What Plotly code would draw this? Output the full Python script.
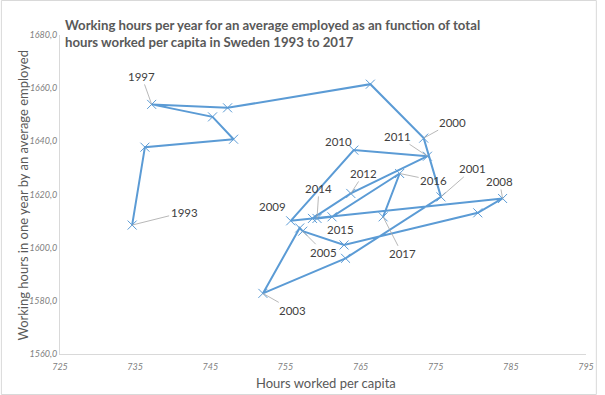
import plotly.graph_objects as go

years = list(range(1993, 2018))
hours_per_capita = [734.6, 736.3, 748.1, 745.3, 737.2, 747.3, 766.3, 773.4, 775.7, 763.0,
                    752.0, 756.9, 757.3, 762.8, 780.6, 783.9, 755.7, 764.1, 773.9, 763.7,
                    758.6, 759.2, 761.2, 770.2, 768.0]
hours_per_employed = [1608.5, 1637.8, 1640.8, 1649.2, 1653.9, 1652.6, 1661.5, 1641.2, 1619.1, 1596.0,
                      1582.8, 1607.4, 1606.2, 1601.0, 1613.1, 1618.5, 1610.1, 1636.7, 1634.4, 1620.4,
                      1611.0, 1611.0, 1611.6, 1627.9, 1611.6]

x_ticks = [725, 735, 745, 755, 765, 775, 785, 795]
y_ticks = [1560, 1580, 1600, 1620, 1640, 1660, 1680]
y_tick_text = ["1560,0", "1580,0", "1600,0", "1620,0", "1640,0", "1660,0", "1680,0"]

labelled_years = [1993, 1997, 2000, 2011, 2001, 2008, 2016, 2010, 2012, 2014, 2009, 2015, 2005, 2017, 2003]
label_offsets = {1993: (52, -13), 1997: (-10, -28), 2000: (29, -16), 2011: (-30, -20),
                 2001: (32, -28), 2008: (-3, -17), 2016: (34, 7), 2010: (-15, -9),
                 2012: (13, -20), 2014: (2, -30), 2009: (-18, -14), 2015: (8, 13),
                 2005: (21, 21), 2017: (19, 37), 2003: (30, 17)}
no_leader = {2010, 2009, 2015}

BLUE = "#5B9BD5"
fig = go.Figure()
fig.add_trace(go.Scatter(
    x=hours_per_capita, y=hours_per_employed, mode="lines+markers",
    line=dict(color=BLUE, width=2),
    marker=dict(symbol="x-thin", size=9, line=dict(color=BLUE, width=1), color=BLUE),
    hoverinfo="x+y", showlegend=False))

annotations = []
for yr in labelled_years:
    i = years.index(yr)
    ax, ay = label_offsets[yr]
    annotations.append(dict(
        x=hours_per_capita[i], y=hours_per_employed[i], xref="x", yref="y",
        text=str(yr), showarrow=True, arrowhead=0, arrowwidth=0.8,
        arrowcolor="rgba(0,0,0,0)" if yr in no_leader else "#a6a6a6",
        standoff=0, ax=ax, ay=ay,
        font=dict(family="Lato", size=11.5, color="#404040")))

annotations.append(dict(
    text="<b>Working hours per year for an average employed as an function of total<br>hours worked per capita in Sweden 1993 to 2017</b>",
    xref="paper", yref="paper", x=3/534, y=1 + 1.5/319, xanchor="left", yanchor="middle",
    align="left", showarrow=False, font=dict(family="Lato", size=13.2, color="#595959")))
annotations.append(dict(
    text="Hours worked per capita", xref="paper", yref="paper",
    x=(330-60)/534, y=-(383-354)/319, xanchor="center", yanchor="middle",
    showarrow=False, font=dict(family="Lato", size=13, color="#595959")))
annotations.append(dict(
    text="Working hours in one year by an average employed", xref="paper", yref="paper",
    x=-(60-22)/534, y=(354-195)/319, xanchor="center", yanchor="middle", textangle=-90,
    showarrow=False, font=dict(family="Lato", size=13, color="#595959")))

fig.update_layout(
    width=605, height=395,
    margin=dict(l=60, r=11, t=35, b=41),
    paper_bgcolor="white", plot_bgcolor="white",
    annotations=annotations,
    shapes=[dict(type="rect", xref="paper", yref="paper",
                 x0=-59.5/534, x1=(604.5-60)/534, y0=-(394.5-354)/319, y1=1 + 34.5/319,
                 line=dict(color="#d9d9d9", width=1), fillcolor="rgba(0,0,0,0)", layer="below")],
    xaxis=dict(range=[725, 795], tickvals=x_ticks, ticktext=[str(v) for v in x_ticks],
               showgrid=False, zeroline=False, showline=True, linecolor="#d9d9d9", linewidth=1,
               ticks="", ticklabelstandoff=4,
               tickfont=dict(family="Lato", size=9, color="#808080", style="italic")),
    yaxis=dict(range=[1560, 1680], tickvals=y_ticks, ticktext=y_tick_text,
               showgrid=False, zeroline=False, showline=True, linecolor="#d9d9d9", linewidth=1,
               ticks="", tickfont=dict(family="Lato", size=9, color="#808080", style="italic")),
)
fig.write_html("out.html", config={"displayModeBar": False},
               post_script="document.body.style.margin='0';document.body.style.overflow='hidden';")
